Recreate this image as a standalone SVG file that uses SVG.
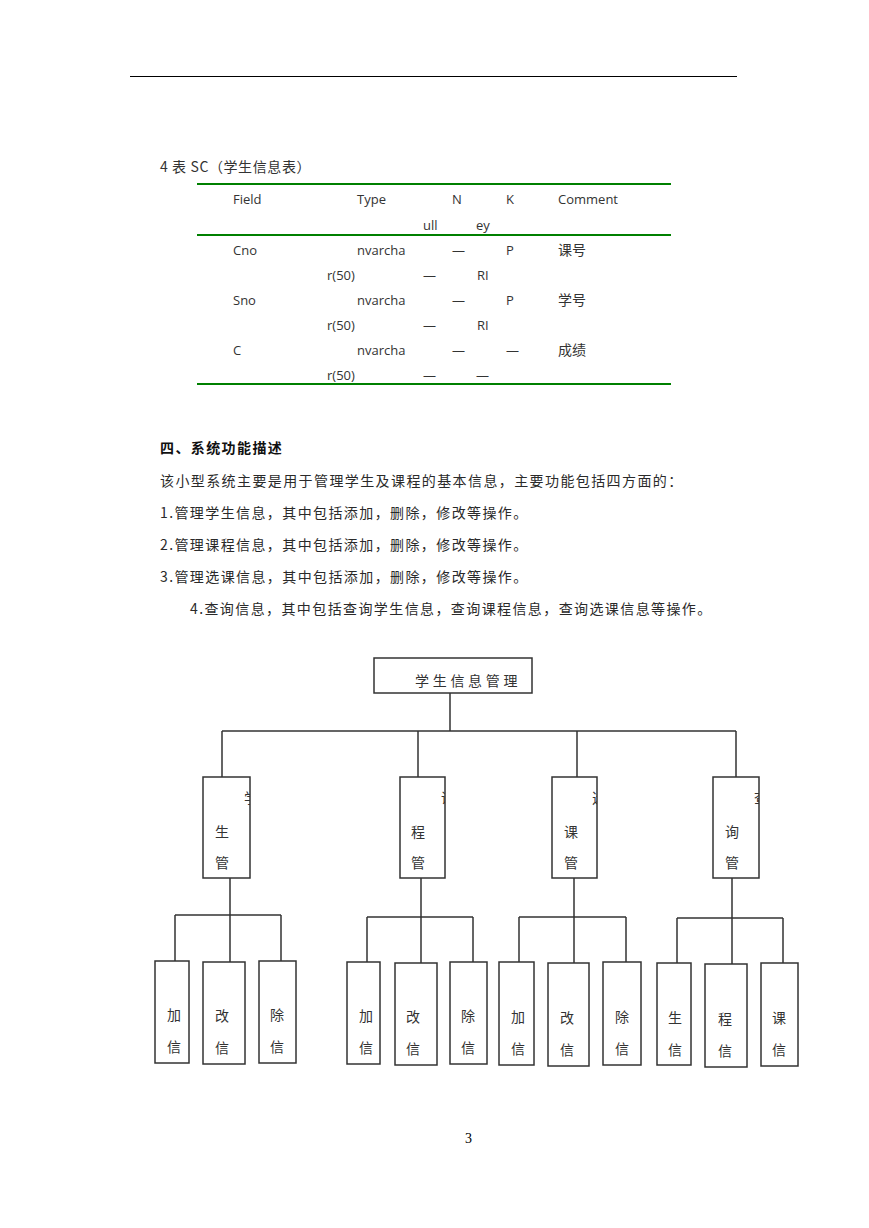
<svg xmlns="http://www.w3.org/2000/svg" width="869" height="1228" viewBox="0 0 869 1228">
<style>
.rule{stroke:#000;stroke-width:1}
.green{stroke:#008000;stroke-width:2}
.t{font-family:"Open Sans","Noto Sans CJK SC",sans-serif;font-size:13px;fill:#333}
.tc{font-family:"Noto Sans CJK SC",sans-serif;font-size:14px;fill:#333}
.p{font-family:"Noto Sans CJK SC",sans-serif;font-size:14px;fill:#2a2a2a;letter-spacing:1.4px}
.h{font-weight:bold;fill:#111}
.box{fill:#fff;stroke:#333;stroke-width:1.5}
.c{stroke:#333;stroke-width:1.5;fill:none}
.n{font-family:"Noto Sans CJK SC",sans-serif;font-size:14px;fill:#333;text-anchor:middle}
.pg{font-family:"Liberation Serif",serif;font-size:14px;fill:#000}
</style>
<defs>
<clipPath id="cb1" clipPathUnits="userSpaceOnUse"><rect x="203" y="777" width="47" height="101"/></clipPath>
<clipPath id="cb2" clipPathUnits="userSpaceOnUse"><rect x="400" y="777" width="45" height="101"/></clipPath>
<clipPath id="cb3" clipPathUnits="userSpaceOnUse"><rect x="552" y="777" width="45" height="101"/></clipPath>
<clipPath id="cb4" clipPathUnits="userSpaceOnUse"><rect x="713" y="777" width="46" height="101"/></clipPath>
</defs>
<rect width="869" height="1228" fill="#fff"/>
<line class="rule" x1="130" y1="76.5" x2="737" y2="76.5"/>

<g id="table">
<text class="tc" x="160" y="172" style="letter-spacing:0.6px">4 表 SC（学生信息表）</text>
<line class="green" x1="197" y1="184" x2="671" y2="184"/>
<line class="green" x1="197" y1="235" x2="671" y2="235"/>
<line class="green" x1="197" y1="384" x2="671" y2="384"/>
<text class="t" x="233" y="204">Field</text>
<text class="t" x="357" y="204">Type</text>
<text class="t" x="452" y="204">N</text>
<text class="t" x="506" y="204">K</text>
<text class="t" x="558" y="204">Comment</text>
<text class="t" x="423" y="230">ull</text>
<text class="t" x="476" y="230">ey</text>

<text class="t" x="233" y="255">Cno</text>
<text class="t" x="357" y="255">nvarcha</text>
<text class="t" x="452" y="255">—</text>
<text class="t" x="506" y="255">P</text>
<text class="tc" x="558" y="255">课号</text>
<text class="t" x="327" y="280">r(50)</text>
<text class="t" x="423" y="280">—</text>
<text class="t" x="477" y="280">RI</text>

<text class="t" x="233" y="305">Sno</text>
<text class="t" x="357" y="305">nvarcha</text>
<text class="t" x="452" y="305">—</text>
<text class="t" x="506" y="305">P</text>
<text class="tc" x="558" y="305">学号</text>
<text class="t" x="327" y="330">r(50)</text>
<text class="t" x="423" y="330">—</text>
<text class="t" x="477" y="330">RI</text>

<text class="t" x="233" y="355">C</text>
<text class="t" x="357" y="355">nvarcha</text>
<text class="t" x="452" y="355">—</text>
<text class="t" x="506" y="355">—</text>
<text class="tc" x="558" y="355">成绩</text>
<text class="t" x="327" y="380">r(50)</text>
<text class="t" x="423" y="380">—</text>
<text class="t" x="476" y="380">—</text>
</g>

<g id="description">
<text class="p h" x="160" y="453">四、系统功能描述</text>
<text class="p" x="160" y="486">该小型系统主要是用于管理学生及课程的基本信息，主要功能包括四方面的：</text>
<text class="p" x="160" y="518">1.管理学生信息，其中包括添加，删除，修改等操作。</text>
<text class="p" x="160" y="550">2.管理课程信息，其中包括添加，删除，修改等操作。</text>
<text class="p" x="160" y="582">3.管理选课信息，其中包括添加，删除，修改等操作。</text>
<text class="p" x="190" y="614">4.查询信息，其中包括查询学生信息，查询课程信息，查询选课信息等操作。</text>
</g>

<g id="connectors">
<path class="c" d="M450 693V731M222 731H736M222 731V777M418 731V777M577 731V777M736 731V777"/>
<path class="c" d="M230 878V915M175 915H281M175 915V961M230 915V962M281 915V961"/>
<path class="c" d="M421 878V917M367 917H473M367 917V962M421 917V963M473 917V962"/>
<path class="c" d="M574 878V917M519 917H626M519 917V962M574 917V963M626 917V962"/>
<path class="c" d="M732 878V918M677 918H783M677 918V963M732 918V964M783 918V963"/>
</g>

<g id="root">
<rect class="box" x="374" y="658" width="158" height="35"/>
<text class="n" x="415" y="686" style="text-anchor:start;letter-spacing:3.7px">学生信息管理</text>
</g>

<g id="student-mgmt">
<rect class="box" x="203" y="777" width="47" height="101"/>
<text class="n" x="244" y="803" clip-path="url(#cb1)" style="text-anchor:start">学</text>
<text class="n" x="222" y="837">生</text>
<text class="n" x="222" y="868">管</text>
</g>
<g id="course-mgmt">
<rect class="box" x="400" y="777" width="45" height="101"/>
<text class="n" x="441" y="803" clip-path="url(#cb2)" style="text-anchor:start">课</text>
<text class="n" x="418" y="837">程</text>
<text class="n" x="418" y="868">管</text>
</g>
<g id="select-mgmt">
<rect class="box" x="552" y="777" width="45" height="101"/>
<text class="n" x="592" y="803" clip-path="url(#cb3)" style="text-anchor:start">选</text>
<text class="n" x="571" y="837">课</text>
<text class="n" x="571" y="868">管</text>
</g>
<g id="query-mgmt">
<rect class="box" x="713" y="777" width="46" height="101"/>
<text class="n" x="754" y="803" clip-path="url(#cb4)" style="text-anchor:start">查</text>
<text class="n" x="732" y="837">询</text>
<text class="n" x="732" y="868">管</text>
</g>

<g id="s-add"><rect class="box" x="155" y="961" width="34" height="102"/><text class="n" x="174" y="1020">加</text><text class="n" x="174" y="1052">信</text></g>
<g id="s-edit"><rect class="box" x="203" y="962" width="42" height="102"/><text class="n" x="222" y="1021">改</text><text class="n" x="222" y="1053">信</text></g>
<g id="s-del"><rect class="box" x="259" y="961" width="37" height="102"/><text class="n" x="277" y="1020">除</text><text class="n" x="277" y="1052">信</text></g>

<g id="c-add"><rect class="box" x="347" y="962" width="33" height="102"/><text class="n" x="366" y="1021">加</text><text class="n" x="366" y="1053">信</text></g>
<g id="c-edit"><rect class="box" x="395" y="963" width="42" height="102"/><text class="n" x="413" y="1022">改</text><text class="n" x="413" y="1054">信</text></g>
<g id="c-del"><rect class="box" x="450" y="962" width="37" height="102"/><text class="n" x="468" y="1021">除</text><text class="n" x="468" y="1053">信</text></g>

<g id="x-add"><rect class="box" x="499" y="962" width="35" height="103"/><text class="n" x="518" y="1022">加</text><text class="n" x="518" y="1054">信</text></g>
<g id="x-edit"><rect class="box" x="548" y="963" width="41" height="103"/><text class="n" x="567" y="1023">改</text><text class="n" x="567" y="1055">信</text></g>
<g id="x-del"><rect class="box" x="603" y="962" width="38" height="103"/><text class="n" x="622" y="1022">除</text><text class="n" x="622" y="1054">信</text></g>

<g id="q-student"><rect class="box" x="657" y="963" width="34" height="102"/><text class="n" x="675" y="1023">生</text><text class="n" x="675" y="1055">信</text></g>
<g id="q-course"><rect class="box" x="705" y="964" width="42" height="103"/><text class="n" x="725" y="1024">程</text><text class="n" x="725" y="1056">信</text></g>
<g id="q-select"><rect class="box" x="761" y="963" width="37" height="103"/><text class="n" x="779" y="1023">课</text><text class="n" x="779" y="1055">信</text></g>

<text class="pg" x="465" y="1143">3</text>
</svg>
